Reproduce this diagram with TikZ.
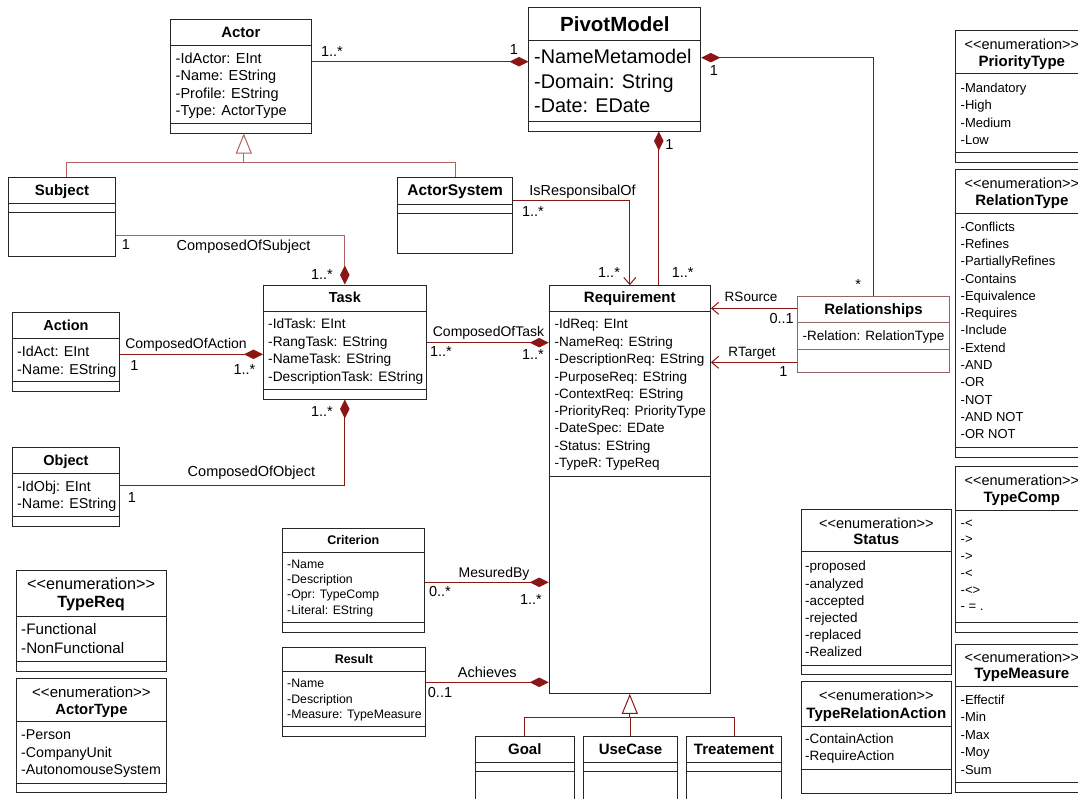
\documentclass[tikz,border=0pt]{standalone}
\usepackage{fontspec}
\setmainfont{Liberation Sans}[Ligatures=TeXOff]
\usetikzlibrary{arrows.meta,fit}

\definecolor{linkred}{RGB}{139,22,22}
\definecolor{softred}{RGB}{178,96,96}
\definecolor{relbrown}{RGB}{150,100,100}
\newcommand{\fsz}[1]{\fontsize{#1}{#1}\selectfont}

\tikzset{
  classbox/.style={draw=black!85, line width=1pt, inner sep=0pt, fill=white},
  sepline/.style={draw=black!85, line width=1pt},
  txt/.style={inner sep=0pt, text depth=0pt},
  title/.style={txt, font=\fsz{15}\bfseries},
  stereo/.style={txt, font=\fsz{14.5}},
  attr/.style={txt, anchor=west, font=\fsz{13.5}},
  lbl/.style={txt, font=\fsz{14.5}},
  link/.style={draw=linkred, line width=1pt},
  softlink/.style={draw=softred, line width=1pt},
  comp/.style={link, -{Diamond[length=19pt,width=9.5pt]}},
  softcomp/.style={softlink, -{Diamond[length=19pt,width=9.5pt,color=linkred]}},
  nav/.style={link, -{Straight Barb[length=7pt,width=12pt]}},
  gen/.style={link, -{Triangle[open,length=20pt,width=16pt,fill=white]}},
  softgen/.style={softlink, -{Triangle[open,length=20pt,width=16pt,fill=white]}}
}

\begin{document}
\begin{tikzpicture}[x=1pt, y=-1pt]
\useasboundingbox (0,0) rectangle (1078,798);
\clip (0,0) rectangle (1078,798);

% Actor
\node[classbox, fit={(170.5,19.3) (311.3,133)}] (actor) {};
\foreach \y in {45.3,123.3} \draw[sepline] (actor.west |- 0,\y) -- (actor.east |- 0,\y);
\node[title] (actor-t) at (actor.north |- 0,32) {Actor};
\foreach \lbl [count=\i from 0] in {-IdActor: EInt, -Name: EString, -Profile: EString, -Type: ActorType}
  \node[attr, font=\fsz{14.5}] (actor-a\i) at (175.5,58.3+17.3*\i) {\lbl};

% PivotModel
\node[classbox, fit={(528.9,7.3) (700.8,131)}] (pivot) {};
\foreach \y in {40.7,121.7} \draw[sepline] (pivot.west |- 0,\y) -- (pivot.east |- 0,\y);
\node[title, font=\fsz{20.5}\bfseries] (pivot-t) at (pivot.north |- 0,24) {PivotModel};
\foreach \lbl [count=\i from 0] in {-NameMetamodel, -Domain: String, -Date: EDate}
  \node[attr, font=\fsz{19.8}] (pivot-a\i) at (534,56.7+24.3*\i) {\lbl};

% Subject and ActorSystem
\node[classbox, fit={(8.3,177.3) (115.7,256.3)}] (subject) {};
\foreach \y in {203.3,212.3} \draw[sepline] (subject.west |- 0,\y) -- (subject.east |- 0,\y);
\node[title] (subject-t) at (subject.north |- 0,190) {Subject};
\node[classbox, fit={(397.7,177.3) (512.7,253.3)}] (actorsys) {};
\foreach \y in {204.3,213.3} \draw[sepline] (actorsys.west |- 0,\y) -- (actorsys.east |- 0,\y);
\node[title, font=\fsz{15.5}\bfseries] (actorsys-t) at (actorsys.north |- 0,190) {ActorSystem};

% Task
\node[classbox, fit={(263.4,285) (426.3,399)}] (task) {};
\foreach \y in {311.7,389} \draw[sepline] (task.west |- 0,\y) -- (task.east |- 0,\y);
\node[title, font=\fsz{14.5}\bfseries] (task-t) at (task.north |- 0,297.3) {Task};
\foreach \lbl [count=\i from 0] in {-IdTask: EInt, -RangTask: EString, -NameTask: EString, -DescriptionTask: EString}
  \node[attr, font=\fsz{13.7}] (task-a\i) at (268,323.3+17.8*\i) {\lbl};

% Action and Object
\node[classbox, fit={(12.4,312.3) (119.5,391)}] (action) {};
\foreach \y in {338.3,381.7} \draw[sepline] (action.west |- 0,\y) -- (action.east |- 0,\y);
\node[title, font=\fsz{14.5}\bfseries] (action-t) at (action.north |- 0,325) {Action};
\foreach \lbl [count=\i from 0] in {-IdAct: EInt, -Name: EString}
  \node[attr, font=\fsz{14.3}] (action-a\i) at (17,351.7+17.3*\i) {\lbl};
\node[classbox, fit={(12.4,447.3) (119.5,526.7)}] (object) {};
\foreach \y in {473.3,516.7} \draw[sepline] (object.west |- 0,\y) -- (object.east |- 0,\y);
\node[title, font=\fsz{14.5}\bfseries] (object-t) at (object.north |- 0,460) {Object};
\foreach \lbl [count=\i from 0] in {-IdObj: EInt, -Name: EString}
  \node[attr, font=\fsz{14.3}] (object-a\i) at (17,486+17.3*\i) {\lbl};

% Requirement
\node[classbox, fit={(549.2,285.7) (710.4,693.3)}] (req) {};
\foreach \y in {311.7,476.7} \draw[sepline] (req.west |- 0,\y) -- (req.east |- 0,\y);
\node[title] (req-t) at (req.north |- 0,297.3) {Requirement};
\foreach \lbl [count=\i from 0] in {-IdReq: EInt, -NameReq: EString, -DescriptionReq: EString, -PurposeReq: EString, -ContextReq: EString, -PriorityReq: PriorityType, -DateSpec: EDate, -Status: EString, -TypeR: TypeReq}
  \node[attr] (req-a\i) at (554.5,324+17.37*\i) {\lbl};

% Relationships
\node[classbox, draw=relbrown, fit={(797.7,296.7) (949.3,372.7)}] (rel) {};
\foreach \y in {322.7,349.3} \draw[sepline, draw=relbrown] (rel.west |- 0,\y) -- (rel.east |- 0,\y);
\node[title] (rel-t) at (rel.north |- 0,309.3) {Relationships};
\node[attr] (rel-a0) at (802.5,336) {-Relation: RelationType};

% Criterion and Result
\node[classbox, fit={(282.4,528.3) (424.2,632.3)}] (crit) {};
\foreach \y in {552.3,622.3} \draw[sepline] (crit.west |- 0,\y) -- (crit.east |- 0,\y);
\node[title, font=\fsz{12.5}\bfseries] (crit-t) at (crit.north |- 0,540) {Criterion};
\foreach \lbl [count=\i from 0] in {-Name, -Description, -Opr: TypeComp, -Literal: EString}
  \node[attr, font=\fsz{12.3}] (crit-a\i) at (287,564+15.3*\i) {\lbl};
\node[classbox, fit={(282.4,647.7) (425.3,736)}] (result) {};
\foreach \y in {671.7,726.7} \draw[sepline] (result.west |- 0,\y) -- (result.east |- 0,\y);
\node[title, font=\fsz{12.5}\bfseries] (result-t) at (result.north |- 0,659.3) {Result};
\foreach \lbl [count=\i from 0] in {-Name, -Description, -Measure: TypeMeasure}
  \node[attr, font=\fsz{12.3}] (result-a\i) at (287,683.3+15.5*\i) {\lbl};

% Goal, UseCase, Treatement
\node[classbox, fit={(475.3,736.7) (574.3,812)}] (goal) {};
\node[classbox, fit={(583.3,736.7) (677.7,812)}] (usecase) {};
\node[classbox, fit={(686.3,736.7) (781.7,812)}] (treat) {};
\foreach \b in {goal,usecase,treat}
  \foreach \y in {762.3,771.7} \draw[sepline] (\b.west |- 0,\y) -- (\b.east |- 0,\y);
\node[title] (goal-t) at (goal.north |- 0,749) {Goal};
\node[title] (usecase-t) at (usecase.north |- 0,749) {UseCase};
\node[title] (treat-t) at (treat.north |- 0,749) {Treatement};

% Enumerations, right column
\node[classbox, fit={(955.7,30) (1088,162.3)}] (prio) {};
\foreach \y in {73.3,152.3} \draw[sepline] (prio.west |- 0,\y) -- (prio.east |- 0,\y);
\node[stereo] (prio-s) at (prio.north |- 0,44) {<<enumeration>>};
\node[title] (prio-t) at (prio.north |- 0,61) {PriorityType};
\foreach \lbl [count=\i from 0] in {-Mandatory, -High, -Medium, -Low}
  \node[attr, font=\fsz{13}] (prio-a\i) at (960.5,87.7+17.3*\i) {\lbl};

\node[classbox, fit={(955.7,169) (1088,457)}] (reltype) {};
\foreach \y in {213,447.5} \draw[sepline] (reltype.west |- 0,\y) -- (reltype.east |- 0,\y);
\node[stereo] (reltype-s) at (reltype.north |- 0,183) {<<enumeration>>};
\node[title] (reltype-t) at (reltype.north |- 0,200) {RelationType};
\foreach \lbl [count=\i from 0] in {-Conflicts, -Refines, -PartiallyRefines, -Contains, -Equivalence, -Requires, -Include, -Extend, -AND, -OR, -NOT, -AND NOT, -OR NOT}
  \node[attr, font=\fsz{13}] (reltype-a\i) at (960.5,226.3+17.33*\i) {\lbl};

\node[classbox, fit={(955.7,466) (1088,632.5)}] (tcomp) {};
\foreach \y in {510,622} \draw[sepline] (tcomp.west |- 0,\y) -- (tcomp.east |- 0,\y);
\node[stereo] (tcomp-s) at (tcomp.north |- 0,480) {<<enumeration>>};
\node[title] (tcomp-t) at (tcomp.north |- 0,497.3) {TypeComp};
\foreach \lbl [count=\i from 0] in {-<, ->, ->, -<, -<>, - = .}
  \node[attr, font=\fsz{13}] (tcomp-a\i) at (960.5,523.3+16.9*\i) {\lbl};

\node[classbox, fit={(955.7,644.3) (1088,792.3)}] (tmeas) {};
\foreach \y in {686.7,782.7} \draw[sepline] (tmeas.west |- 0,\y) -- (tmeas.east |- 0,\y);
\node[stereo] (tmeas-s) at (tmeas.north |- 0,657) {<<enumeration>>};
\node[title] (tmeas-t) at (tmeas.north |- 0,673.3) {TypeMeasure};
\foreach \lbl [count=\i from 0] in {-Effectif, -Min, -Max, -Moy, -Sum}
  \node[attr, font=\fsz{13}] (tmeas-a\i) at (960.5,699.3+17.7*\i) {\lbl};

% Status and TypeRelationAction
\node[classbox, fit={(801.7,509.3) (951,674.3)}] (status) {};
\foreach \y in {551.7,665} \draw[sepline] (status.west |- 0,\y) -- (status.east |- 0,\y);
\node[stereo] (status-s) at (status.north |- 0,523.3) {<<enumeration>>};
\node[title] (status-t) at (status.north |- 0,539.3) {Status};
\foreach \lbl [count=\i from 0] in {-proposed, -analyzed, -accepted, -rejected, -replaced, -Realized}
  \node[attr] (status-a\i) at (805,566+17.2*\i) {\lbl};

\node[classbox, fit={(801.7,681) (951,793.3)}] (trelact) {};
\foreach \y in {726,769.3} \draw[sepline] (trelact.west |- 0,\y) -- (trelact.east |- 0,\y);
\node[stereo] (trelact-s) at (trelact.north |- 0,695.3) {<<enumeration>>};
\node[title] (trelact-t) at (trelact.north |- 0,713.3) {TypeRelationAction};
\foreach \lbl [count=\i from 0] in {-ContainAction, -RequireAction}
  \node[attr] (trelact-a\i) at (805,738.7+17*\i) {\lbl};

% TypeReq and ActorType
\node[classbox, fit={(16.2,570.7) (166,671)}] (treq) {};
\foreach \y in {616.7,661.7} \draw[sepline] (treq.west |- 0,\y) -- (treq.east |- 0,\y);
\node[stereo, font=\fsz{16.2}] (treq-s) at (treq.north |- 0,584) {<<enumeration>>};
\node[title, font=\fsz{16.3}\bfseries] (treq-t) at (treq.north |- 0,601.7) {TypeReq};
\foreach \lbl [count=\i from 0] in {-Functional, -NonFunctional}
  \node[attr, font=\fsz{15.2}] (treq-a\i) at (21,629+18.7*\i) {\lbl};

\node[classbox, fit={(16.2,678.7) (166.7,792.3)}] (tactor) {};
\foreach \y in {721.7,783.3} \draw[sepline] (tactor.west |- 0,\y) -- (tactor.east |- 0,\y);
\node[stereo, font=\fsz{15}] (tactor-s) at (tactor.north |- 0,691.7) {<<enumeration>>};
\node[title, font=\fsz{14.8}\bfseries] (tactor-t) at (tactor.north |- 0,709) {ActorType};
\foreach \lbl [count=\i from 0] in {-Person, -CompanyUnit, -AutonomouseSystem}
  \node[attr, font=\fsz{14.2}] (tactor-a\i) at (21,735+17.2*\i) {\lbl};

% Connectors
\draw[comp] (actor.east |- 0,61.7) -- (pivot.west |- 0,61.7);
\node[lbl] (m-actor1) at (332,52) {1..*};
\node[lbl] (m-actor2) at (514,50) {1};

\coordinate (actor-g) at ([xshift=2.9pt]actor.south);
\draw[softlink] ([xshift=4.5pt]subject.north) |- (actorsys.north |- 0,162) -- (actorsys.north);
\draw[softgen] (actor-g |- 0,162) -- (actor-g);

\draw[softcomp] (subject.east |- 0,235.3) -| (task.north);
\node[lbl] (m-subj1) at (126,245) {1};
\node[lbl] (l-subj) at (243.6,245) {ComposedOfSubject};
\node[lbl] (m-subj2) at (322,275) {1..*};

\draw[nav] (actorsys.east |- 0,200.7) -| (req.north);
\node[lbl] (l-resp) at (582.5,190) {IsResponsibalOf};
\node[lbl] (m-resp1) at (533,212) {1..*};
\node[lbl] (m-resp2) at (609,273) {1..*};

\coordinate (pivot-b) at ([xshift=44pt]pivot.south);
\draw[comp] (pivot-b |- req.north) -- (pivot-b);
\node[lbl] (m-preq1) at (669.5,145) {1};
\node[lbl] (m-preq2) at (682.7,273) {1..*};

\draw[comp] (rel.north) |- (pivot.east |- 0,57.7);
\node[lbl] (m-prel1) at (714,71) {1};
\node[lbl] (m-prel2) at (858.3,285) {*};

\draw[comp] (action.east |- 0,354.3) -- (task.west |- 0,354.3);
\node[lbl, font=\fsz{14}] (l-act) at (186,343.3) {ComposedOfAction};
\node[lbl] (m-act1) at (134.3,366) {1};
\node[lbl] (m-act2) at (244.5,370) {1..*};

\draw[comp] (object.east |- 0,485.7) -| (task.south);
\node[lbl] (l-obj) at (251.4,471) {ComposedOfObject};
\node[lbl] (m-obj1) at (132,498) {1};
\node[lbl] (m-obj2) at (322,411.7) {1..*};

\draw[comp] (task.east |- 0,342.7) -- (req.west |- 0,342.7);
\node[lbl, font=\fsz{14}] (l-task) at (488.5,331.7) {ComposedOfTask};
\node[lbl] (m-task1) at (441,351.7) {1..*};
\node[lbl] (m-task2) at (533,355) {1..*};

\draw[nav] (rel.west |- 0,308.3) -- (req.east |- 0,308.3);
\node[lbl, font=\fsz{13.5}] (l-rsrc) at (751,296.7) {RSource};
\node[lbl] (m-rsrc) at (781.7,318.3) {0..1};
\draw[nav] (rel.west |- 0,362.3) -- (req.east |- 0,362.3);
\node[lbl, font=\fsz{13.5}] (l-rtgt) at (752,351.7) {RTarget};
\node[lbl] (m-rtgt) at (783.3,371.7) {1};

\draw[comp] (crit.east |- 0,582.3) -- (req.west |- 0,582.3);
\node[lbl, font=\fsz{14}] (l-mes) at (494,572) {MesuredBy};
\node[lbl] (m-mes1) at (440,591.7) {0..*};
\node[lbl] (m-mes2) at (531,599.3) {1..*};

\draw[comp] (result.east |- 0,682.3) -- (req.west |- 0,682.3);
\node[lbl] (l-ach) at (487.3,672.7) {Achieves};
\node[lbl] (m-ach) at (440,692.7) {0..1};

\draw[link] (goal.north) |- (treat.north |- 0,717.3) -- (treat.north);
\draw[link] (usecase.north) -- (usecase.north |- 0,717.3);
\draw[gen] (req.south |- 0,717.3) -- (req.south);
\end{tikzpicture}
\end{document}
